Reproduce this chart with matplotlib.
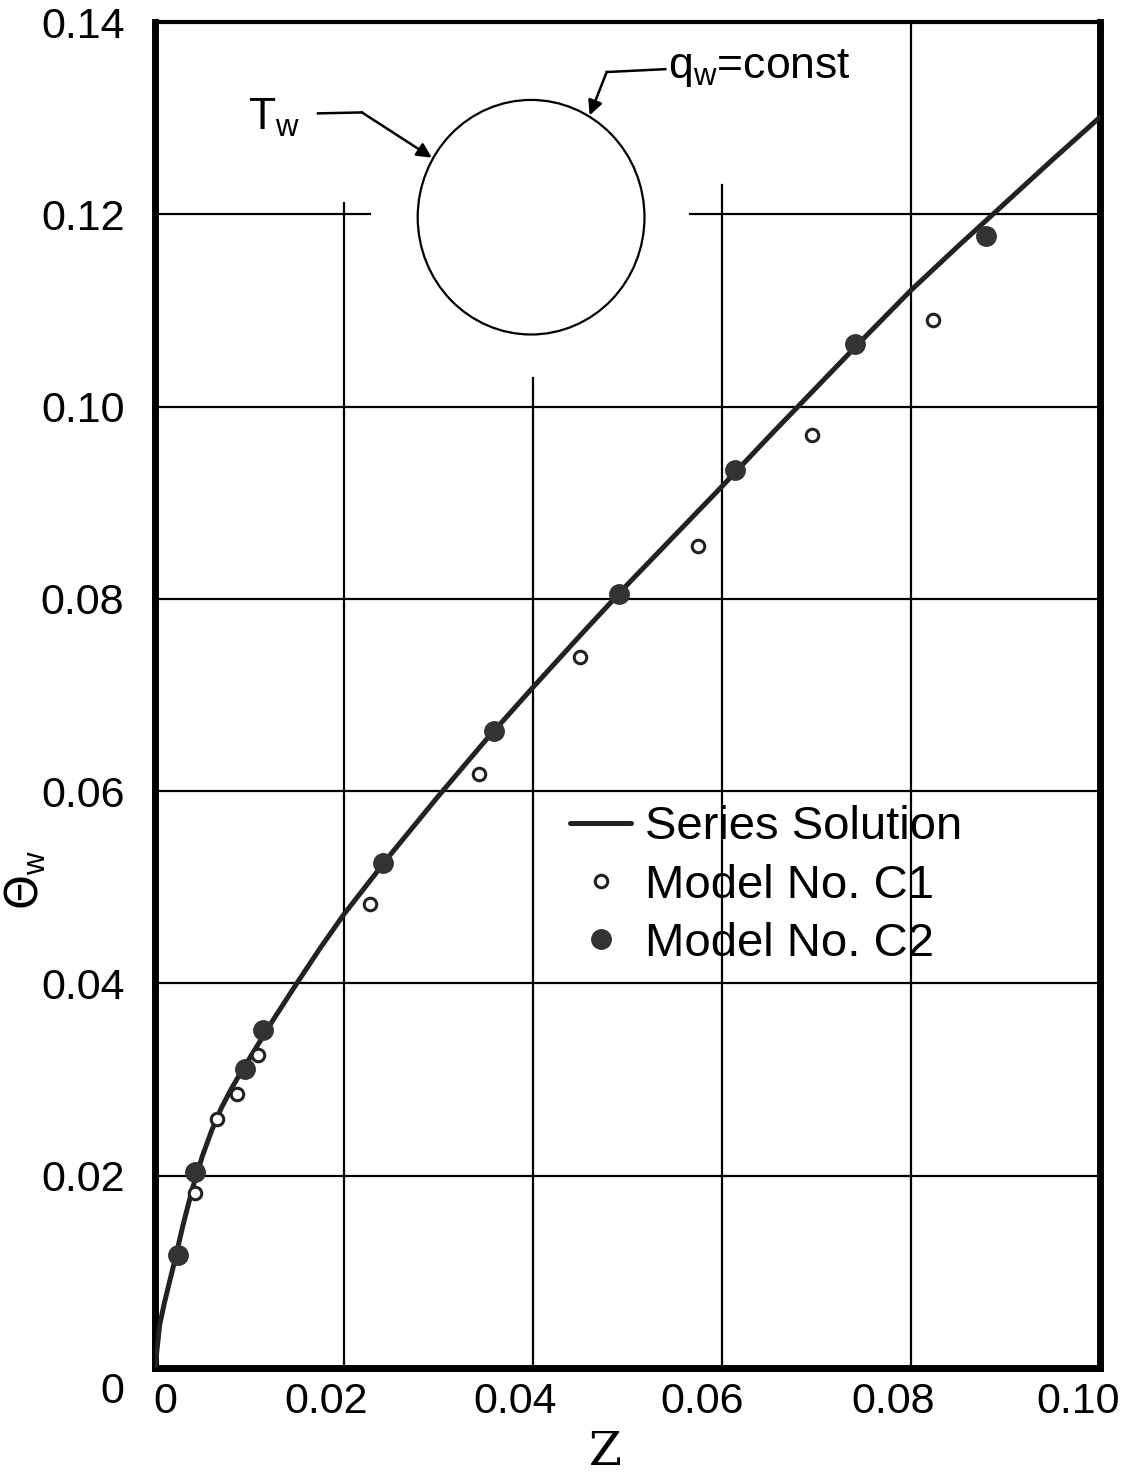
import matplotlib
matplotlib.use("Agg")
import matplotlib.pyplot as plt
from matplotlib.patches import Ellipse
from matplotlib.transforms import ScaledTranslation

plt.rcParams['font.family'] = ['Liberation Sans', 'DejaVu Sans']

# Series solution curve
series_z = [0.0, 0.0005, 0.001, 0.002, 0.003, 0.004, 0.005, 0.006, 0.007, 0.008, 0.009, 0.010,
            0.0125, 0.015, 0.0175, 0.020, 0.025, 0.030, 0.035, 0.040, 0.045, 0.050, 0.055,
            0.060, 0.065, 0.070, 0.075, 0.080, 0.085, 0.090, 0.095, 0.100]
series_theta = [0.0, 0.0045, 0.0068, 0.0108, 0.0150, 0.0188, 0.0220, 0.0247, 0.0270, 0.0289, 0.0306, 0.0322,
                0.0362, 0.0400, 0.0437, 0.0472, 0.0535, 0.0595, 0.0653, 0.0708, 0.0762, 0.0815, 0.0866,
                0.0917, 0.0969, 0.1020, 0.1071, 0.1121, 0.1167, 0.1212, 0.1257, 0.1301]

# Model No. C1 (open circles)
c1_z = [0.0042, 0.0066, 0.0087, 0.0109, 0.0228, 0.0343, 0.0450, 0.0575, 0.0695, 0.0823]
c1_theta = [0.0182, 0.0259, 0.0285, 0.0326, 0.0483, 0.0618, 0.0740, 0.0855, 0.0970, 0.1090]

# Model No. C2 (filled circles)
c2_z = [0.0024, 0.0042, 0.0095, 0.0114, 0.0241, 0.0359, 0.0491, 0.0614, 0.0741, 0.0879]
c2_theta = [0.0118, 0.0204, 0.0311, 0.0352, 0.0525, 0.0663, 0.0805, 0.0934, 0.1065, 0.1177]

x_ticks = [0, 0.02, 0.04, 0.06, 0.08, 0.10]
x_labels = ['0', '0.02', '0.04', '0.06', '0.08', '0.10']
y_ticks = [0, 0.02, 0.04, 0.06, 0.08, 0.10, 0.12, 0.14]
y_labels = ['0', '0.02', '0.04', '0.06', '0.08', '0.10', '0.12', '0.14']

fig = plt.figure(figsize=(11.24, 14.8), dpi=100)
ax = fig.add_axes([0.1379, 0.0757, 0.8407, 0.9094])
ax.set_xlim(0, 0.10)
ax.set_ylim(0, 0.14)

# grid lines (some interrupted around the inset sketch)
gc = 'black'
gw = 1.6
ax.axvline(0.02, ymax=0.1212 / 0.14, color=gc, lw=gw, zorder=1)
ax.axvline(0.04, ymax=0.103 / 0.14, color=gc, lw=gw, zorder=1)
ax.axvline(0.06, ymax=0.123 / 0.14, color=gc, lw=gw, zorder=1)
ax.axvline(0.08, color=gc, lw=gw, zorder=1)
for yv in [0.02, 0.04, 0.06, 0.08, 0.10]:
    ax.axhline(yv, color=gc, lw=gw, zorder=1)
ax.axhline(0.12, xmax=0.228, color=gc, lw=gw, zorder=1)
ax.axhline(0.12, xmin=0.566, color=gc, lw=gw, zorder=1)

ax.plot(series_z, series_theta, color='#222222', lw=3.6, zorder=3, label='Series Solution',
        solid_joinstyle='round', solid_capstyle='round')
ax.plot(c1_z, c1_theta, linestyle='none', marker='o', markersize=9, markerfacecolor='white',
        markeredgecolor='#222222', markeredgewidth=2.2, zorder=4, label='Model No. C1')
ax.plot(c2_z, c2_theta, linestyle='none', marker='o', markersize=14, color='#333333',
        zorder=5, label='Model No. C2')

# inset sketch: tube cross-section
ax.add_patch(Ellipse((0.0398, 0.1197), 0.0240, 0.0244, fill=False, lw=1.6,
                     edgecolor='black', zorder=2))
ax.text(0.0098, 0.1300, r'T$_\mathregular{w}$', fontsize=32, ha='left', va='center')
ax.plot([0.01725, 0.0219], [0.1305, 0.1306], color='black', lw=1.8)
ax.annotate('', xy=(0.0293, 0.1259), xytext=(0.0219, 0.1306),
            arrowprops=dict(arrowstyle='-|>', lw=1.8, color='black',
                            shrinkA=0, shrinkB=0, mutation_scale=22))
ax.text(0.0543, 0.1352, r'q$_\mathregular{w}$=const', fontsize=32, ha='left', va='center')
ax.plot([0.0540, 0.0478], [0.1351, 0.1348], color='black', lw=1.8)
ax.annotate('', xy=(0.0460, 0.1303), xytext=(0.0478, 0.1348),
            arrowprops=dict(arrowstyle='-|>', lw=1.8, color='black',
                            shrinkA=0, shrinkB=0, mutation_scale=22))

for side in ['left', 'bottom', 'right']:
    ax.spines[side].set_linewidth(5)
ax.spines['top'].set_linewidth(3)

ax.set_xticks(x_ticks)
ax.set_xticklabels(x_labels)
ax.set_yticks(y_ticks)
ax.set_yticklabels(y_labels)
ax.tick_params(length=0, labelsize=31)
ax.tick_params(axis='y', pad=22)
ax.tick_params(axis='x', pad=10)

x_shift = [10, -18, -18, -20, -18, -22]
for lab, dx in zip(ax.get_xticklabels(), x_shift):
    lab.set_transform(lab.get_transform() + ScaledTranslation(dx / 100, 0, fig.dpi_scale_trans))
ylabs = ax.get_yticklabels()
ylabs[0].set_transform(ylabs[0].get_transform() + ScaledTranslation(0, -0.2, fig.dpi_scale_trans))

ax.set_xlabel('Z', fontsize=34, family=['DejaVu Serif'])
ax.xaxis.set_label_coords((605 - 155) / 945, -0.046)
ax.set_ylabel(r'$\Theta_\mathregular{w}$', fontsize=32)
ax.yaxis.set_label_coords(-0.113, (1368 - 880) / 1346)

ax.legend(loc='upper left', bbox_to_anchor=(0.419, 0.432), frameon=False, fontsize=34,
          handlelength=1.3, handletextpad=0.3, labelspacing=0.3, borderaxespad=0)

fig.savefig('out.png', dpi=100)
